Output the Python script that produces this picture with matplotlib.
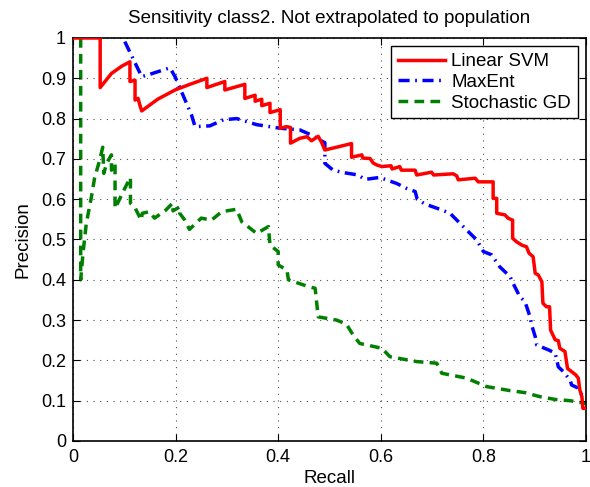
import numpy as np
import matplotlib as mpl
import matplotlib.pyplot as plt

# --- data (recall, precision)
svm_recall = [0.000, 0.053, 0.053, 0.075, 0.095, 0.111, 0.111, 0.121, 0.121, 0.127,
              0.130, 0.134, 0.165, 0.199, 0.230, 0.261, 0.261, 0.296, 0.296, 0.335,
              0.335, 0.355, 0.355, 0.368, 0.368, 0.384, 0.384, 0.404, 0.404, 0.416,
              0.424, 0.424, 0.442, 0.456, 0.465, 0.478, 0.485, 0.491, 0.543, 0.543,
              0.563, 0.565, 0.579, 0.585, 0.592, 0.602, 0.620, 0.622, 0.637, 0.640,
              0.667, 0.670, 0.699, 0.703, 0.741, 0.748, 0.751, 0.784, 0.790, 0.819,
              0.819, 0.826, 0.826, 0.842, 0.848, 0.857, 0.857, 0.865, 0.875, 0.884,
              0.889, 0.897, 0.901, 0.907, 0.914, 0.916, 0.923, 0.929, 0.931, 0.940,
              0.946, 0.949, 0.959, 0.964, 0.972, 0.980, 0.985, 0.988, 0.992, 0.994,
              1.000]
svm_precision = [1.000, 1.000, 0.877, 0.912, 0.930, 0.941, 0.892, 0.895, 0.846, 0.850,
                 0.835, 0.819, 0.848, 0.871, 0.886, 0.900, 0.877, 0.892, 0.871, 0.885,
                 0.850, 0.858, 0.843, 0.848, 0.832, 0.838, 0.815, 0.822, 0.776, 0.780,
                 0.778, 0.739, 0.751, 0.755, 0.745, 0.756, 0.740, 0.722, 0.738, 0.704,
                 0.710, 0.702, 0.701, 0.690, 0.685, 0.681, 0.683, 0.675, 0.681, 0.672,
                 0.672, 0.660, 0.667, 0.660, 0.663, 0.658, 0.648, 0.652, 0.643, 0.643,
                 0.602, 0.602, 0.565, 0.561, 0.553, 0.548, 0.503, 0.494, 0.486, 0.482,
                 0.466, 0.457, 0.416, 0.412, 0.395, 0.342, 0.333, 0.333, 0.275, 0.251,
                 0.249, 0.230, 0.222, 0.180, 0.172, 0.164, 0.156, 0.127, 0.110, 0.081,
                 0.081]

maxent_recall = [0.101, 0.134, 0.150, 0.189, 0.199, 0.231, 0.238, 0.267, 0.293, 0.319,
                 0.358, 0.404, 0.442, 0.465, 0.481, 0.491, 0.491, 0.507, 0.527, 0.556,
                 0.569, 0.598, 0.611, 0.631, 0.650, 0.667, 0.671, 0.686, 0.715, 0.735,
                 0.767, 0.787, 0.800, 0.816, 0.832, 0.852, 0.858, 0.871, 0.881, 0.891,
                 0.894, 0.901, 0.904, 0.927, 0.940, 0.946, 0.956, 0.969, 0.972, 0.985,
                 0.992, 1.000]
maxent_precision = [0.991, 0.904, 0.910, 0.926, 0.904, 0.809, 0.780, 0.782, 0.797, 0.800,
                    0.785, 0.776, 0.772, 0.759, 0.747, 0.740, 0.689, 0.672, 0.666, 0.660,
                    0.649, 0.654, 0.648, 0.639, 0.627, 0.619, 0.600, 0.588, 0.575, 0.565,
                    0.524, 0.499, 0.470, 0.462, 0.432, 0.408, 0.391, 0.358, 0.346, 0.308,
                    0.288, 0.259, 0.238, 0.226, 0.218, 0.184, 0.172, 0.151, 0.139, 0.131,
                    0.114, 0.105]

sgd_recall = [0.015, 0.015, 0.0195, 0.026, 0.036, 0.042, 0.052, 0.058, 0.060, 0.066,
              0.075, 0.075, 0.082, 0.082, 0.101, 0.112, 0.112, 0.120, 0.133, 0.135,
              0.149, 0.159, 0.181, 0.194, 0.195, 0.208, 0.208, 0.218, 0.227, 0.250,
              0.270, 0.290, 0.319, 0.329, 0.358, 0.381, 0.384, 0.400, 0.400, 0.417,
              0.420, 0.459, 0.472, 0.478, 0.514, 0.533, 0.546, 0.559, 0.602, 0.618,
              0.670, 0.709, 0.719, 0.767, 0.806, 0.852, 0.881, 0.910, 0.940, 0.969,
              1.000]
sgd_precision = [1.000, 0.400, 0.466, 0.540, 0.606, 0.652, 0.697, 0.729, 0.664, 0.690,
                 0.710, 0.672, 0.689, 0.577, 0.627, 0.654, 0.590, 0.581, 0.548, 0.565,
                 0.569, 0.553, 0.573, 0.590, 0.571, 0.581, 0.565, 0.548, 0.525, 0.553,
                 0.548, 0.569, 0.575, 0.544, 0.515, 0.532, 0.486, 0.470, 0.437, 0.424,
                 0.400, 0.383, 0.379, 0.308, 0.300, 0.290, 0.263, 0.242, 0.230, 0.209,
                 0.197, 0.193, 0.168, 0.156, 0.135, 0.125, 0.120, 0.110, 0.103, 0.100,
                 0.093]

title = "Sensitivity class2. Not extrapolated to population"

# --- style (matlab-ish look)
mpl.rcParams.update({
    "font.family": ["Liberation Sans", "DejaVu Sans"],
    "font.size": 13,
    "xtick.direction": "in",
    "ytick.direction": "in",
    "xtick.top": True,
    "ytick.right": True,
    "xtick.major.size": 5,
    "ytick.major.size": 5,
    "xtick.major.pad": 6,
    "ytick.major.pad": 5,
    "axes.linewidth": 1.2,
})

fig = plt.figure(figsize=(5.9, 4.87), dpi=100)
ax = fig.add_axes([0.1237, 0.0945, 0.8695, 0.8275])

ax.plot(svm_recall, svm_precision, color="red", linewidth=2.5, label="Linear SVM", zorder=3)
ax.plot(maxent_recall, maxent_precision, color="blue", linewidth=2.5,
        dashes=(3.2, 1.6, 0.5, 1.6), label="MaxEnt", zorder=2)
ax.plot(sgd_recall, sgd_precision, color="green", linewidth=2.5,
        dashes=(2.8, 1.8), label="Stochastic GD", zorder=1)

ax.set_xlim(0, 1)
ax.set_ylim(0, 1)
ax.set_xticks(np.arange(0, 1.01, 0.2))
ax.set_yticks(np.arange(0, 1.01, 0.1))
ax.set_xticklabels(["0", "0.2", "0.4", "0.6", "0.8", "1"])
ax.set_yticklabels(["0"] + [f"{v:.1f}" for v in np.arange(0.1, 0.95, 0.1)] + ["1"])
ax.grid(True, linestyle=(0, (1, 5)), color="0.3", linewidth=0.8)

ax.set_xlabel("Recall", fontsize=13.5, labelpad=3)
ax.set_ylabel("Precision", fontsize=13.5, labelpad=7)
ax.set_title(title, fontsize=13.5, pad=11)

leg = ax.legend(loc="upper right", fancybox=False, edgecolor="black",
                framealpha=1, handlelength=2.5, handletextpad=0.35,
                borderaxespad=0.45, labelspacing=0.2, borderpad=0.35,
                fontsize=13.5)
leg.get_frame().set_linewidth(1.0)

fig.savefig("out.png", dpi=100)
